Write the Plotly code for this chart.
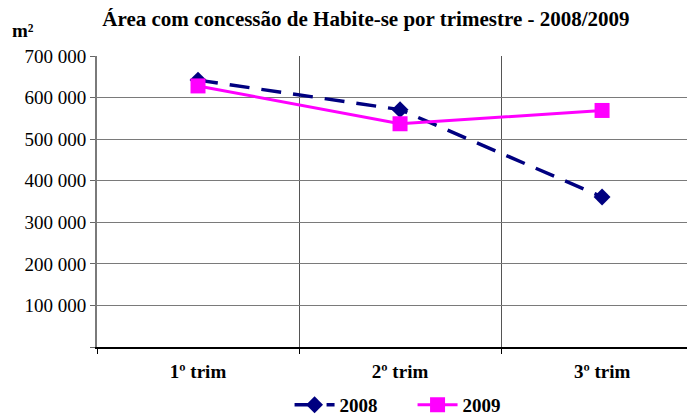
import plotly.graph_objects as go

categories = ["1º trim", "2º trim", "3º trim"]
values_2008 = [642000, 571000, 361000]
values_2009 = [628000, 537000, 569000]
y_ticks = [0, 100000, 200000, 300000, 400000, 500000, 600000, 700000]
y_tick_labels = ["", "100 000", "200 000", "300 000", "400 000", "500 000", "600 000", "700 000"]

SERIF = "Liberation Serif"

fig = go.Figure()
fig.add_trace(go.Scatter(
    x=categories, y=values_2008, name="2008", mode="lines+markers",
    line=dict(color="#000080", width=3.5, dash="20px,12px"),
    marker=dict(symbol="diamond", size=13, color="#000080"),
))
fig.add_trace(go.Scatter(
    x=categories, y=values_2009, name="2009", mode="lines+markers",
    line=dict(color="#FF00FF", width=3),
    marker=dict(symbol="square", size=15, color="#FF00FF"),
))

# page body adds an 8px offset; figure is sized so that the plot area lands where the reference has it
fig.update_layout(
    width=687, height=410,
    margin=dict(l=89, r=0, t=48, b=71),
    paper_bgcolor="white", plot_bgcolor="white",
    font=dict(family=SERIF, size=19, color="black"),
    title=dict(
        text="<b>Área com concessão de Habite-se por trimestre - 2008/2009</b>",
        x=0.521, xref="container", xanchor="center",
        y=0.973, yref="container", yanchor="middle",
        font=dict(family=SERIF, size=21, color="black"),
    ),
    showlegend=True,
    legend=dict(
        orientation="h", x=0.322, xanchor="left",
        y=0.032, yref="container", yanchor="middle",
        font=dict(family=SERIF, size=19, color="black", weight="bold"),
        itemwidth=40,
        entrywidth=68, entrywidthmode="pixels",
        traceorder="normal",
    ),
    annotations=[dict(
        text="<b>m²</b>", xref="paper", yref="paper",
        x=-0.145, y=1.088, xanchor="left", yanchor="middle",
        showarrow=False, font=dict(family=SERIF, size=19, color="black"),
    )],
)

fig.update_xaxes(
    type="category",
    range=[-0.5, 2.46],
    tickson="boundaries",
    ticks="outside", ticklen=5, tickcolor="black",
    showgrid=True, gridcolor="#555555", gridwidth=1,
    showline=True, linecolor="black", linewidth=1.5,
    tickfont=dict(family=SERIF, size=19, color="black", weight="bold"),
    ticklabelstandoff=6,
    automargin=False,
)
fig.update_yaxes(
    range=[0, 700000],
    tickvals=y_ticks, ticktext=y_tick_labels,
    ticks="outside", ticklen=5, tickcolor="#666666",
    showgrid=True, gridcolor="#7a7a7a", gridwidth=1,
    showline=True, linecolor="#7a7a7a", linewidth=2,
    zeroline=False,
    tickfont=dict(family=SERIF, size=19, color="black"),
    automargin=False,
)

fig.write_html("out.html")
